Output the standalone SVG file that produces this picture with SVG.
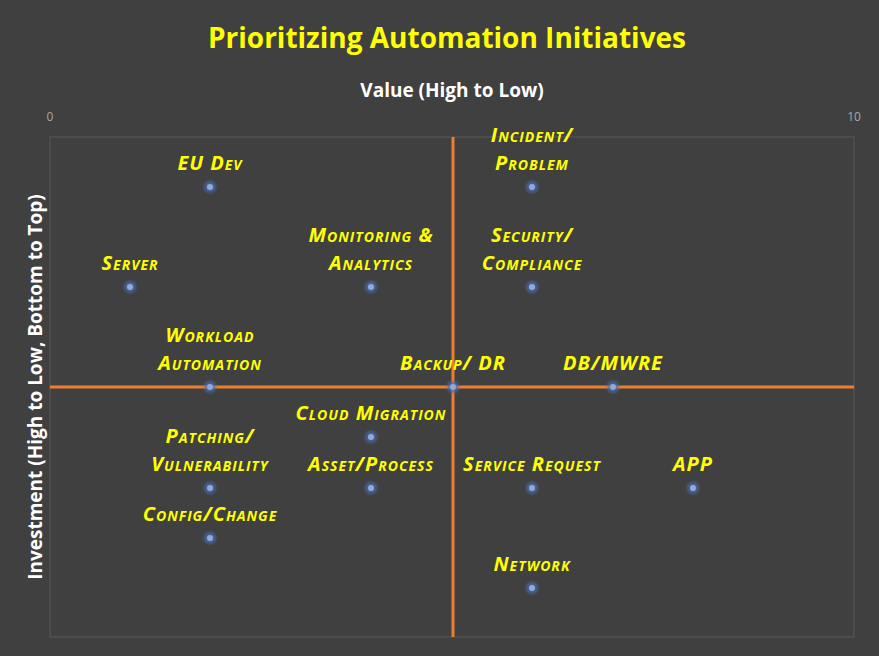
<svg xmlns="http://www.w3.org/2000/svg" width="879" height="656" viewBox="0 0 879 656">
<defs>
<radialGradient id="glow"><stop offset="0.3" stop-color="#4a6fb5" stop-opacity="0.9"/><stop offset="1" stop-color="#4a6fb5" stop-opacity="0"/></radialGradient>
<style>
.lbl{font-family:"Open Sans","DejaVu Sans",sans-serif;font-weight:bold;font-style:italic;font-variant:small-caps;font-size:20px;letter-spacing:1px;fill:#ffff00;text-anchor:middle}
.tick{font-family:"Open Sans",sans-serif;font-size:12px;fill:#a6a6a6;text-anchor:middle}
.ax{font-family:"Open Sans",sans-serif;font-weight:bold;font-size:19px;fill:#ffffff;text-anchor:middle}
.q{stroke:#ed7d31;stroke-width:3}
</style>
<g id="pt"><circle r="8" fill="url(#glow)"/><circle r="3" fill="#8faadc"/></g>
</defs>
<rect width="879" height="656" fill="#404040"/>
<text x="447" y="48" font-family="Open Sans,sans-serif" font-weight="bold" font-size="28" fill="#ffff00" text-anchor="middle">Prioritizing Automation Initiatives</text>
<text class="ax" x="452" y="97">Value (High to Low)</text>
<text class="ax" transform="translate(42,387) rotate(-90)">Investment (High to Low, Bottom to Top)</text>
<text class="tick" x="50" y="121">0</text>
<text class="tick" x="854" y="121">10</text>
<rect x="50" y="137" width="804" height="500" fill="none" stroke="#595959" stroke-width="1"/>
<g id="connectors">
<line class="q" x1="453" y1="137" x2="453" y2="637"/>
<line class="q" x1="50" y1="387" x2="854" y2="387"/>
</g>
<g id="eu-dev"><use href="#pt" x="210" y="187"/><text class="lbl" x="210" y="170">EU Dev</text></g>
<g id="server"><use href="#pt" x="130" y="287"/><text class="lbl" x="130" y="270">Server</text></g>
<g id="monitoring"><use href="#pt" x="371" y="287"/><text class="lbl" x="371" y="242">Monitoring &amp;</text><text class="lbl" x="371" y="270">Analytics</text></g>
<g id="incident"><use href="#pt" x="532" y="187"/><text class="lbl" x="532" y="142">Incident/</text><text class="lbl" x="532" y="170">Problem</text></g>
<g id="security"><use href="#pt" x="532" y="287"/><text class="lbl" x="532" y="242">Security/</text><text class="lbl" x="532" y="270">Compliance</text></g>
<g id="workload"><use href="#pt" x="210" y="387"/><text class="lbl" x="210" y="342">Workload</text><text class="lbl" x="210" y="370">Automation</text></g>
<g id="backup"><use href="#pt" x="453" y="387"/><text class="lbl" x="453" y="370">Backup/ DR</text></g>
<g id="dbmwre"><use href="#pt" x="613" y="387"/><text class="lbl" x="613" y="370">DB/MWRE</text></g>
<g id="cloud"><use href="#pt" x="371" y="437"/><text class="lbl" x="371" y="420">Cloud Migration</text></g>
<g id="patching"><use href="#pt" x="210" y="488"/><text class="lbl" x="210" y="443">Patching/</text><text class="lbl" x="210" y="471">Vulnerability</text></g>
<g id="asset"><use href="#pt" x="371" y="488"/><text class="lbl" x="371" y="471">Asset/Process</text></g>
<g id="service"><use href="#pt" x="532" y="488"/><text class="lbl" x="532" y="471">Service Request</text></g>
<g id="app"><use href="#pt" x="693" y="488"/><text class="lbl" x="693" y="471">APP</text></g>
<g id="config"><use href="#pt" x="210" y="538"/><text class="lbl" x="210" y="521">Config/Change</text></g>
<g id="network"><use href="#pt" x="532" y="588"/><text class="lbl" x="532" y="571">Network</text></g>
</svg>
